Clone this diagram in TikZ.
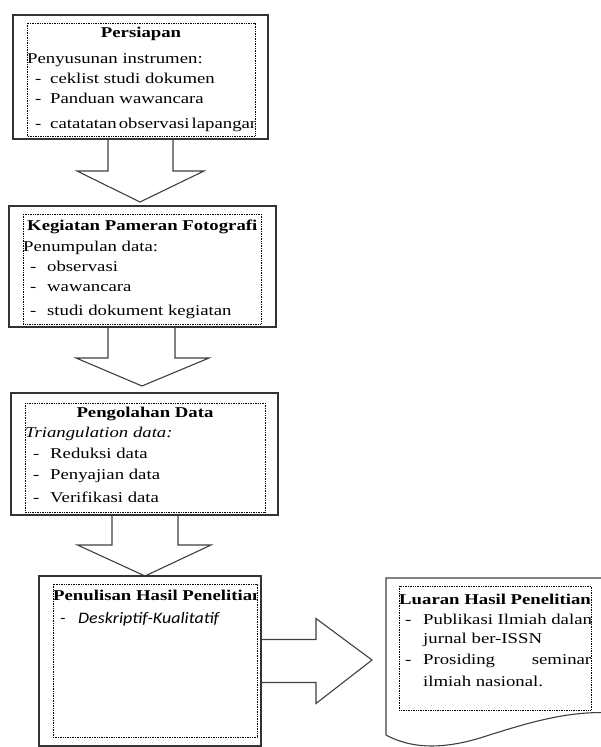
\documentclass[tikz,border=0pt]{standalone}
\usepackage{fontspec}
\setmainfont{Liberation Serif}[FakeStretch=1.25]
\newfontfamily\calib{Carlito}[FakeStretch=1.12]
\usetikzlibrary{calc}
\begin{document}
\begin{tikzpicture}[x=1pt,y=-1pt,
  outer/.style={draw=black!80,line width=1.6pt,fill=white,inner sep=0pt,outer sep=0pt},
  inner/.style={draw=black,line width=0.8pt,dash pattern=on 0.8pt off 0.9pt},
  bigarrow/.style={draw=black!75,line width=1.1pt,fill=white,line join=miter},
  docshape/.style={draw=black!75,line width=1.1pt,fill=white},
  txt/.style={anchor=base west,inner sep=0pt,font=\fontsize{15}{17}\selectfont},
  ttl/.style={txt,font=\fontsize{15}{17}\selectfont\bfseries},
  ctl/.style={ttl,anchor=base},
]
\clip (0,0) rectangle (601,747);
% boxes as nodes (positions only)
\path (140.5,77) node[minimum width=255pt,minimum height=124pt,inner sep=0pt,outer sep=0pt] (b1) {};
\path (142.5,266.5) node[minimum width=267pt,minimum height=121pt,inner sep=0pt,outer sep=0pt] (b2) {};
\path (144.5,454) node[minimum width=267pt,minimum height=122pt,inner sep=0pt,outer sep=0pt] (b3) {};
\path (150,661) node[minimum width=222pt,minimum height=170pt,inner sep=0pt,outer sep=0pt] (b4) {};
\coordinate (b5) at (386,660);

% block arrows
\draw[bigarrow] ($(b1.south)+(-32.5,0)$) -- ++(0,32) -- ++(-31,0)
  -- ($(b2.north)+(-2.5,-4)$) -- ($(b1.south)+(63.5,32)$) -- ++(-31,0) -- ++(0,-32);
\draw[bigarrow] ($(b2.south)+(-34.5,0)$) -- ++(0,31) -- ++(-32,0)
  -- ($(b3.north)+(-2.5,-7)$) -- ($(b2.south)+(66.5,31)$) -- ++(-34,0) -- ++(0,-31);
\draw[bigarrow] ($(b3.south)+(-32.5,0)$) -- ++(0,30) -- ++(-34.5,0)
  -- ($(b4.north)+(-5,0)$) -- ($(b3.south)+(66.5,30)$) -- ++(-33,0) -- ++(0,-30);
\draw[bigarrow] ($(b4.east)+(0,-21.5)$) -- ++(55,0) -- ++(0,-21)
  -- ($(b5)+(-14,0)$) -- ($(b4.east)+(55,42.5)$) -- ++(0,-21) -- ++(-55,0);

% outer boxes
\draw[outer] (b1.north west) rectangle (b1.south east);
\draw[outer] (b2.north west) rectangle (b2.south east);
\draw[outer] (b3.north west) rectangle (b3.south east);
\draw[outer] (b4.north west) rectangle (b4.south east);
\draw[docshape] (386,578) -- (615,578) -- (615,713)
  .. controls (570,710) and (530,722) .. (480,738)
  .. controls (440,750) and (410,748) .. (386,735) -- cycle;

% inner dotted boxes
\draw[inner] (27,23) rectangle (255,136);
\draw[inner] (23,214) rectangle (261,324);
\draw[inner] (25,403) rectangle (265,512);
\draw[inner] (53,584) rectangle (257,737);
\draw[inner] (399,586) rectangle (591,710);

% box 1 text
\begin{scope}
\clip (27,23) rectangle (255,136);
\node[ctl] (t1) at (141,37) {Persiapan};
\node[txt] (t1a) at (27,63) {Penyusunan instrumen:};
\node[txt] (t1b) at (35,83) {-};
\node[txt] (t1c) at (50,83) {ceklist studi dokumen};
\node[txt] (t1d) at (35,103) {-};
\node[txt] (t1e) at (50,103) {Panduan wawancara};
\node[txt] (t1f) at (35,128) {-};
\node[txt] (t1g) at (50,128) {catatatan\hspace{2pt}observasi\hspace{2pt}lapangan};
\end{scope}

% box 2 text
\node[ttl] (t2) at (27,230) {Kegiatan Pameran Fotografi};
\node[txt] (t2a) at (23,251) {Penumpulan data:};
\node[txt] (t2b) at (30,271) {-};
\node[txt] (t2c) at (47,271) {observasi};
\node[txt] (t2d) at (30,291) {-};
\node[txt] (t2e) at (47,291) {wawancara};
\node[txt] (t2f) at (30,315) {-};
\node[txt] (t2g) at (47,315) {studi dokument kegiatan};

% box 3 text
\node[ctl] (t3) at (145,417) {Pengolahan Data};
\node[txt] (t3a) at (25,437) {\itshape Triangulation data:};
\node[txt] (t3b) at (33,458) {-};
\node[txt] (t3c) at (50,458) {Reduksi data};
\node[txt] (t3d) at (33,479) {-};
\node[txt] (t3e) at (50,479) {Penyajian data};
\node[txt] (t3f) at (33,502) {-};
\node[txt] (t3g) at (50,502) {Verifikasi data};

% box 4 text
\begin{scope}
\clip (53,584) rectangle (257.5,737);
\node[ttl] (t4) at (53,600) {Penulisan Hasil Penelitian};
\node[txt,font=\fontsize{16}{18}\calib\itshape] (t4a) at (60,623) {-};
\node[txt,font=\fontsize{16}{18}\calib\itshape] (t4b) at (78,623) {Deskriptif-Kualitatif};
\end{scope}

% box 5 text
\begin{scope}
\clip (399,586) rectangle (591,710);
\node[ttl] (t5) at (399,604) {Luaran Hasil Penelitian};
\node[txt] (t5a) at (405,624) {-};
\node[txt] (t5b) at (423,624) {Publikasi Ilmiah dalam};
\node[txt] (t5c) at (423,643) {jurnal ber-ISSN};
\node[txt] (t5d) at (405,664) {-};
\node[txt] (t5e) at (423,664) {\hbox to 168pt{Prosiding\hfill seminar}};
\node[txt] (t5f) at (423,686) {ilmiah nasional.};
\end{scope}
\end{tikzpicture}
\end{document}
